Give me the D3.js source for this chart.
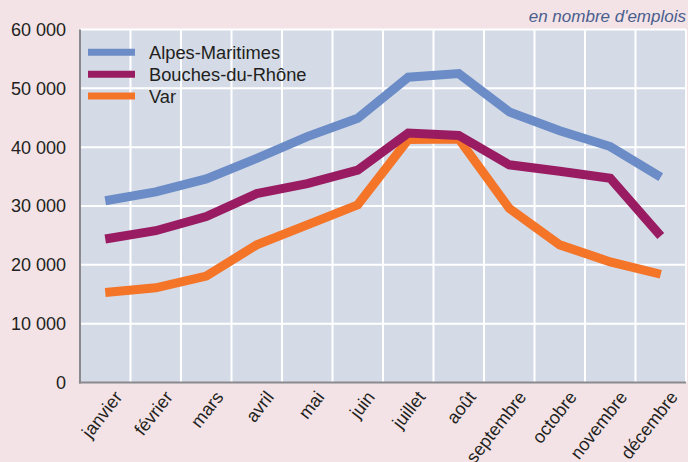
<!DOCTYPE html>
<html><head><meta charset="utf-8">
<script src="https://cdn.jsdelivr.net/npm/d3@7"></script>
<style>body{margin:0;background:#f3e3e6;} svg{display:block;font-family:"Liberation Sans",Arial,sans-serif;}</style>
</head><body><svg id="c" width="688" height="462"></svg>
<script>
const months = ["janvier","février","mars","avril","mai","juin","juillet","août","septembre","octobre","novembre","décembre"];
const alpesMaritimes = [30900,32400,34600,38100,41800,44900,51900,52500,46000,42800,40100,34900];
const bouchesDuRhone = [24400,25800,28200,32100,33800,36100,42400,42000,37000,35900,34700,24900];
const varDept = [15300,16100,18100,23400,26800,30200,41300,41400,29600,23400,20500,18400];
const yTicks = [0,10000,20000,30000,40000,50000,60000];
const seriesNames = ["Alpes-Maritimes","Bouches-du-Rhône","Var"];
const seriesColors = ["#6b8cc7","#991c62","#f47428"];

const svg = d3.select("#c");
const W = 688, H = 462;
svg.append("rect").attr("width",W).attr("height",H).attr("fill","#f3e3e6");
const m = {l:80, r:686, t:29.5, b:382.5};
const x = d3.scaleBand().domain(months).range([m.l, m.r]);
const y = d3.scaleLinear().domain([0,60000]).range([m.b, m.t]);

svg.append("rect").attr("x",m.l).attr("y",m.t).attr("width",m.r-m.l).attr("height",m.b-m.t).attr("fill","#d4dbe7");
// grid
const g = svg.append("g");
g.selectAll("line.v").data(months.slice(1)).join("line")
  .attr("x1",d=>x(d)).attr("x2",d=>x(d)).attr("y1",m.t).attr("y2",m.b)
  .attr("stroke","#fff").attr("stroke-width",2);
g.selectAll("line.h").data(yTicks.slice(1)).join("line")
  .attr("x1",m.l).attr("x2",m.r).attr("y1",d=>y(d)).attr("y2",d=>y(d))
  .attr("stroke","#fff").attr("stroke-width",2);
svg.append("line").attr("x1",m.r).attr("x2",m.r).attr("y1",m.t).attr("y2",m.b).attr("stroke","#fff").attr("stroke-width",2);

// axes lines
svg.append("line").attr("x1",m.l).attr("x2",m.l).attr("y1",m.t).attr("y2",m.b+1).attr("stroke","#8a8a8e").attr("stroke-width",2);
svg.append("line").attr("x1",m.l-1).attr("x2",m.r).attr("y1",m.b).attr("y2",m.b).attr("stroke","#8a8a8e").attr("stroke-width",2);

// y labels
const fmt = v => v===0 ? "0" : d3.format(",")(v).replace(/,/g," ");
svg.selectAll("text.yl").data(yTicks).join("text")
  .attr("x",66).attr("y",d=>y(d)).attr("dy","0.36em").attr("text-anchor","end")
  .attr("font-size",18).attr("fill","#231f20").text(fmt);

// x labels
svg.selectAll("text.xl").data(months).join("text")
  .attr("transform",d=>`translate(${x(d)+x.bandwidth()/2+13},${m.b+11}) rotate(-52)`)
  .attr("text-anchor","end").attr("dy","0.35em")
  .attr("font-size",18).attr("fill","#231f20").text(d=>d);

// lines
const data = [alpesMaritimes, bouchesDuRhone, varDept];
const line = d3.line().x((d,i)=>x(months[i])+x.bandwidth()/2).y(d=>y(d));
[2,1,0].forEach(k=>{
  svg.append("path").attr("d",line(data[k])).attr("fill","none")
    .attr("stroke",seriesColors[k]).attr("stroke-width",9).attr("stroke-linejoin","miter");
});

// legend
seriesNames.forEach((n,i)=>{
  const ly = 52.3 + i*21.9;
  svg.append("line").attr("x1",88).attr("x2",135).attr("y1",ly).attr("y2",ly)
    .attr("stroke",seriesColors[i]).attr("stroke-width",7);
  svg.append("text").attr("x",149).attr("y",ly).attr("dy","0.36em")
    .attr("font-size",18.3).attr("fill","#231f20").text(n);
});

svg.append("text").attr("x",686).attr("y",22).attr("text-anchor","end")
  .attr("font-size",17).attr("font-style","italic").attr("fill","#4a5e8e").text("en nombre d'emplois");
</script></body></html>
